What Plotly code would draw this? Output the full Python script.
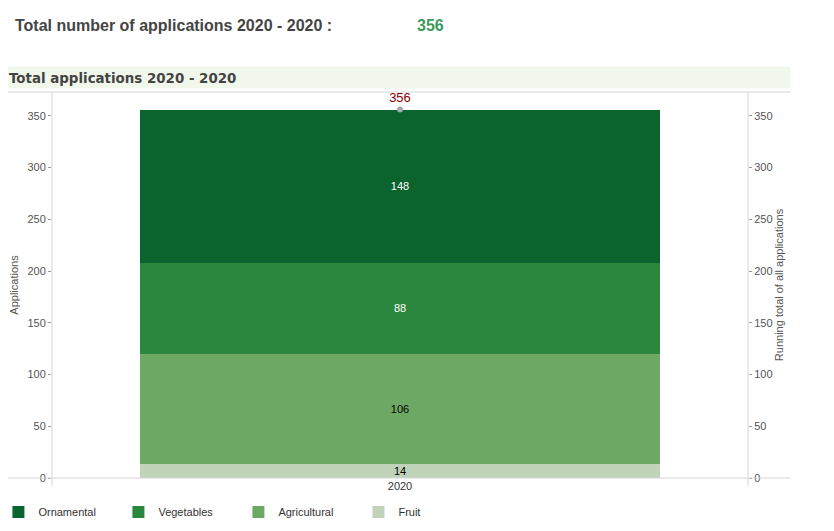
import plotly.graph_objects as go

# data
years = ["2020"]
categories = ["Fruit", "Agricultural", "Vegetables", "Ornamental"]
values = {
    "Fruit": [14],
    "Agricultural": [106],
    "Vegetables": [88],
    "Ornamental": [148],
}
running_total = [356]
total_label = "356"

colors = {
    "Ornamental": "#0b632d",
    "Vegetables": "#2a873d",
    "Agricultural": "#6da964",
    "Fruit": "#c0d3b8",
}
text_colors = {
    "Ornamental": "white",
    "Vegetables": "white",
    "Agricultural": "black",
    "Fruit": "black",
}
legend_rank = {"Ornamental": 1, "Vegetables": 2, "Agricultural": 3, "Fruit": 4}

fig = go.Figure()

for cat in categories:
    fig.add_trace(go.Bar(
        x=years, y=values[cat], name=cat,
        marker=dict(color=colors[cat], line=dict(width=0)),
        text=values[cat], textposition="inside", insidetextanchor="middle",
        textfont=dict(family="Arial", size=11, color=text_colors[cat]),
        legendrank=legend_rank[cat],
        hoverinfo="name+y",
    ))

fig.add_trace(go.Scatter(
    x=years, y=running_total, yaxis="y2", mode="markers+text",
    marker=dict(color="#a8a8a8", size=6),
    text=[total_label], textposition="top center",
    textfont=dict(family="Arial", size=13, color="#8b0000"),
    showlegend=False, name="Running total",
))

axis_font = dict(family="Arial", size=11, color="#555")

# page body has an 8px margin, so the margins are offset by that
fig.update_layout(
    width=834, height=531,
    barmode="stack", bargap=0.253,
    plot_bgcolor="white", paper_bgcolor="white",
    margin=dict(l=44, r=94, t=84, b=61, autoexpand=False),
    uniformtext=dict(minsize=11, mode="show"),
    showlegend=True,
    legend=dict(
        orientation="h", x=-0.077, xanchor="left", y=-0.088, yanchor="middle",
        entrywidth=75, entrywidthmode="pixels", itemwidth=30,
        font=dict(family="Arial", size=11, color="#333"),
        traceorder="normal", itemclick=False,
    ),
    xaxis=dict(
        type="category", showgrid=False, zeroline=False, showline=False,
        ticks="", tickfont=dict(family="Arial", size=11, color="#333"), automargin=False,
    ),
    yaxis=dict(
        range=[0, 373], dtick=50, showgrid=False, zeroline=False,
        showline=False, ticks="outside", ticklen=3, tickcolor="#999",
        tickfont=axis_font, automargin=False,
        title=dict(text="Applications", font=axis_font, standoff=10),
    ),
    yaxis2=dict(
        range=[0, 373], dtick=50, overlaying="y", side="right",
        showgrid=False, zeroline=False, showline=False, automargin=False,
        ticks="outside", ticklen=3, tickcolor="#999", tickfont=axis_font,
        title=dict(text="Running total of all applications", font=axis_font, standoff=3),
    ),
)

line_col = "#d6d6d6"
# title band and frame lines
fig.add_shape(type="rect", xref="paper", yref="paper",
              x0=-0.063, x1=1.061, y0=1.009, y1=1.066,
              fillcolor="#f1f8eb", line=dict(width=0), layer="below")
fig.add_shape(type="line", xref="paper", yref="paper",
              x0=-0.063, x1=1.061, y0=1.0, y1=1.0, line=dict(color=line_col, width=1))
fig.add_shape(type="line", xref="paper", yref="paper",
              x0=-0.063, x1=1.061, y0=0, y1=0, line=dict(color=line_col, width=1))
fig.add_shape(type="line", xref="paper", yref="paper",
              x0=0, x1=0, y0=-0.02, y1=1.0, line=dict(color=line_col, width=1))
fig.add_shape(type="line", xref="paper", yref="paper",
              x0=1, x1=1, y0=-0.02, y1=1.0, line=dict(color=line_col, width=1))

fig.add_annotation(text="<b>Total applications 2020 - 2020</b>", xref="paper", yref="paper",
                   x=-0.065, y=1.036, xanchor="left", yanchor="middle", showarrow=False,
                   font=dict(family="DejaVu Sans", size=13.4, color="#444"))
fig.add_annotation(text="<b>Total number of applications 2020 - 2020 :</b>",
                   xref="paper", yref="paper", x=-0.056, y=1.171,
                   xanchor="left", yanchor="middle", showarrow=False,
                   font=dict(family="Arial", size=16, color="#444"))
fig.add_annotation(text="<b>" + total_label + "</b>", xref="paper", yref="paper",
                   x=0.521, y=1.171, xanchor="left", yanchor="middle", showarrow=False,
                   font=dict(family="Arial", size=16, color="#3d9a5c"))

fig.write_html("out.html")
